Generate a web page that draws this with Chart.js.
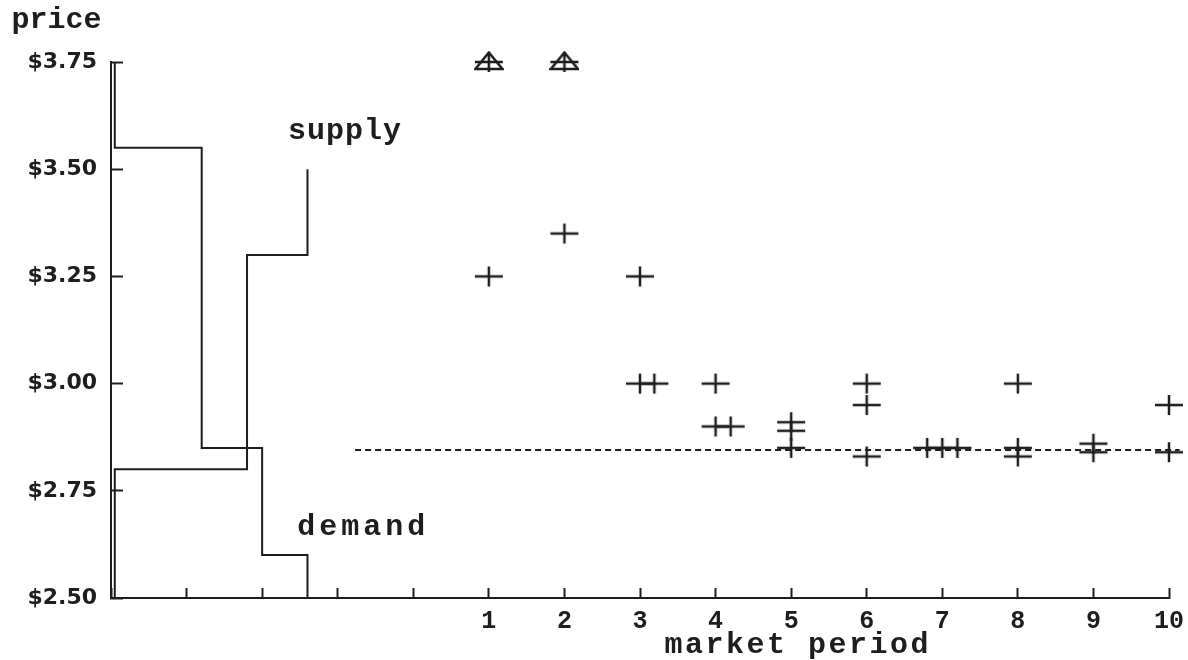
<!DOCTYPE html>
<html>
<head>
<meta charset="utf-8">
<title>market period</title>
<script src="https://cdn.jsdelivr.net/npm/chart.js@4"></script>
<style>
  html, body { margin: 0; padding: 0; background: #fff; }
  #wrap { width: 1188px; height: 660px; position: relative; }
</style>
</head>
<body>
<div id="wrap"><canvas id="c"></canvas></div>
<script>
// Contract prices per market period (side-by-side repeats are nudged right/left of the period)
const contractPeriod = [1, 2, 3, 3, 3.19, 4, 4, 4.2, 5, 5, 5, 6, 6, 6, 6.8, 7, 7.2, 8, 8, 8, 9, 9, 10, 10];
const contractPrice  = [3.25, 3.35, 3.25, 3.00, 3.00, 3.00, 2.90, 2.90, 2.91, 2.89, 2.85, 3.00, 2.95, 2.83, 2.85, 2.85, 2.85, 3.00, 2.85, 2.83, 2.86, 2.84, 2.95, 2.84];

// Periods whose first trade sat at the price ceiling
const ceilingPeriod = [1, 2];
const ceilingPrice  = [3.75, 3.75];

// Step demand and supply schedules (drawn in the space left of period 1)
const demandStepX = [-3.95, -2.80, -2.00, -1.40, -1.40];
const demandStepY = [3.75, 3.55, 2.85, 2.60, 2.50];
const supplyStepX = [-3.95, -2.20, -1.40, -1.40];
const supplyStepY = [2.50, 2.80, 3.30, 3.50];

// Competitive equilibrium price
const equilibriumPrice = 2.845;
const equilibriumFrom = -0.77;
const equilibriumTo = 10.14;

// Axis ticks
const periodTicks = [1, 2, 3, 4, 5, 6, 7, 8, 9, 10];
const priceTicks = [2.50, 2.75, 3.00, 3.25, 3.50, 3.75];

const INK = '#1e1e1e';
const zip = (xs, ys) => xs.map((x, i) => ({ x, y: ys[i] }));

// Marker glyphs: a wide plus, and a plus inside a flat triangle
function plusGlyph(withTriangle) {
  const cv = document.createElement('canvas');
  cv.width = 30; cv.height = 22;
  const g = cv.getContext('2d');
  g.strokeStyle = INK;
  g.lineWidth = 2.5;
  g.lineCap = 'butt';
  g.beginPath();
  g.moveTo(1, 11); g.lineTo(29, 11);
  g.moveTo(15, 1); g.lineTo(15, 21);
  g.stroke();
  if (withTriangle) {
    g.lineJoin = 'miter';
    g.beginPath();
    g.moveTo(15, 1.5); g.lineTo(28.5, 18); g.lineTo(1.5, 18); g.closePath();
    g.stroke();
  }
  return cv;
}

// Text placed in data coordinates
const annotations = [
  { text: 'price', x: -4.72, y: 3.829, spacing: 0 },
  { text: 'supply', x: -0.91, y: 3.57, spacing: 1 },
  { text: 'demand', x: -0.69, y: 2.647, spacing: 4 },
  { text: 'market period', x: 5.07, y: 2.372, spacing: 2.5 }
];

const textPlugin = {
  id: 'textLabels',
  afterDatasetsDraw(chart) {
    const { ctx, scales: { x, y } } = chart;
    annotations.forEach(a => {
      ctx.save();
      ctx.fillStyle = INK;
      ctx.font = 'bold 30px "Liberation Mono"';
      ctx.textAlign = 'center';
      ctx.textBaseline = 'alphabetic';
      ctx.letterSpacing = a.spacing + 'px';
      ctx.fillText(a.text, x.getPixelForValue(a.x) + a.spacing / 2, y.getPixelForValue(a.y));
      ctx.restore();
    });
  }
};

new Chart(document.getElementById('c'), {
  type: 'scatter',
  data: {
    datasets: [
      {
        label: 'demand',
        data: zip(demandStepX, demandStepY),
        showLine: true, stepped: 'after',
        borderColor: INK, borderWidth: 2, pointRadius: 0, clip: false
      },
      {
        label: 'supply',
        data: zip(supplyStepX, supplyStepY),
        showLine: true, stepped: 'after',
        borderColor: INK, borderWidth: 2, pointRadius: 0, clip: false
      },
      {
        label: 'equilibrium',
        data: [{ x: equilibriumFrom, y: equilibriumPrice }, { x: equilibriumTo, y: equilibriumPrice }],
        showLine: true, borderDash: [6, 4],
        borderColor: INK, borderWidth: 2, pointRadius: 0, clip: false
      },
      {
        label: 'contracts',
        data: zip(contractPeriod, contractPrice),
        pointStyle: plusGlyph(false), pointRadius: 10, clip: false
      },
      {
        label: 'ceiling',
        data: zip(ceilingPeriod, ceilingPrice),
        pointStyle: plusGlyph(true), pointRadius: 10, clip: false
      }
    ]
  },
  options: {
    responsive: true,
    maintainAspectRatio: false,
    animation: false,
    events: [],
    layout: { padding: { top: 62, right: 19, left: 0, bottom: 0 } },
    plugins: { legend: { display: false }, tooltip: { enabled: false } },
    scales: {
      x: {
        type: 'linear', min: -4, max: 10,
        afterFit(s) { s.height = 62; s.paddingLeft = 0; s.paddingRight = 0; },
        afterBuildTicks(s) {
          s.ticks = [];
          for (let v = -4; v <= 10; v++) s.ticks.push({ value: v });
        },
        ticks: {
          autoSkip: false, maxRotation: 0, padding: 19, color: INK,
          font: { family: '"Liberation Mono"', size: 25, weight: 'bold' },
          callback: v => periodTicks.includes(v) ? String(v) : ''
        },
        grid: { drawOnChartArea: false, drawTicks: true, tickLength: -10, tickWidth: 2, tickColor: INK },
        border: { display: true, color: INK, width: 2 }
      },
      y: {
        type: 'linear', min: 2.5, max: 3.75,
        afterFit(s) { s.width = 111; s.paddingTop = 0; s.paddingBottom = 0; },
        afterBuildTicks(s) { s.ticks = priceTicks.map(v => ({ value: v })); },
        ticks: {
          padding: 26, color: INK,
          font: { family: '"DejaVu Sans"', size: 22, weight: 'bold' },
          callback: v => '$' + Number(v).toFixed(2)
        },
        grid: { drawOnChartArea: false, drawTicks: true, tickLength: -12, tickWidth: 2, tickColor: INK },
        border: { display: true, color: INK, width: 2 }
      }
    }
  },
  plugins: [textPlugin]
});
</script>
</body>
</html>
